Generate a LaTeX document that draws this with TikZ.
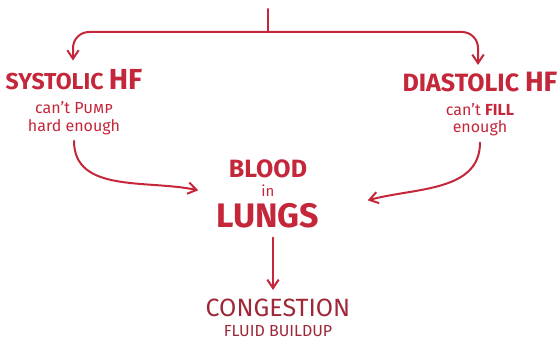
\documentclass[tikz,border=0pt]{standalone}
\usepackage{fontspec}
\setmainfont{Fira Sans}
\setsansfont{Fira Sans}
\usepackage{tikz}
\usetikzlibrary{arrows.meta,positioning,calc}
\definecolor{hfred}{RGB}{196,38,58}
\definecolor{congred}{RGB}{158,40,56}
\newcommand{\fsz}[1]{\fontsize{#1}{#1}\selectfont}

\begin{document}
\begin{tikzpicture}[x=1pt, y=-1pt, font=\sffamily, hf/.style={text=hfred, font=\sffamily\bfseries\fsz{23}, inner sep=1pt}, note/.style={text=hfred, font=\sffamily\fsz{16}, inner sep=1pt}, arr/.style={-{Straight Barb[length=3mm, width=4mm]}, hfred, line width=2pt, line cap=round}]
\useasboundingbox (0,0) rectangle (560,347);
\coordinate (top) at (268,9);
\coordinate (fork) at (268,32);
\node[hf] (sys) at (74,80) {SYSTOLIC {\fsz{29}HF}};
\node[note, below=9pt of sys] (sysa) {can't \textsc{Pump}};
\node[note, below=3pt of sysa] (sysb) {hard enough};
\node[hf, font=\sffamily\bfseries\fsz{25}] (dia) at (480,82) {DIASTOLIC {\fsz{28}HF}};
\node[note, below=9pt of dia] (diaa) {can't \textbf{FILL}};
\node[note, below=3pt of diaa] (diab) {enough};
\node[hf, font=\sffamily\bfseries\fsz{25}] (blood) at (268,169) {BLOOD};
\node[note, font=\sffamily\fsz{15}, below=4pt of blood] (inn) {in};
\node[hf, font=\sffamily\bfseries\fsz{34}, below=5pt of inn] (lungs) {LUNGS};
\node[hf, text=congred, font=\sffamily\fsz{25}] (cong) at (278,308) {CONGESTION};
\node[note, text=congred, below=6pt of cong] (fluid) {FLUID BUILDUP};
\draw[arr, -] (top) -- (fork);
\draw[arr, rounded corners=16pt] (fork) -| ([shift={(-1pt,8pt)}]sys.north);
\draw[arr, rounded corners=16pt] (fork) -| ([shift={(-2pt,6pt)}]dia.north);
\draw[arr] ([yshift=-5pt]sysb.south) to[out=-90, in=168] ([xshift=-62pt, yshift=0pt]inn.west);
\draw[arr] ([yshift=-5pt]diab.south) to[out=-90, in=15] ([xshift=92pt, yshift=-10pt]inn.east);
\draw[arr] ([xshift=5pt, yshift=-8pt]lungs.south) -- ([xshift=-5pt, yshift=8pt]cong.north);
\end{tikzpicture}
\end{document}
